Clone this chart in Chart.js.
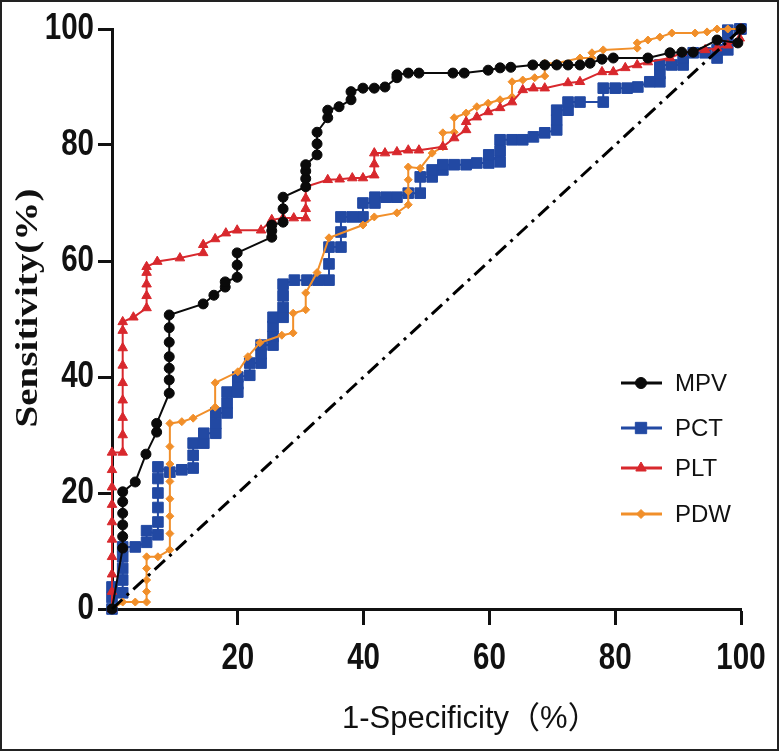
<!DOCTYPE html>
<html>
<head>
<meta charset="utf-8">
<script src="https://cdn.jsdelivr.net/npm/chart.js@4.4.1/dist/chart.umd.min.js"></script>
<style>
    html, body { margin: 0; padding: 0; background: #fff; }
    #wrap { width: 779px; height: 751px; }
</style>
</head>
<body>
<div id="wrap"><canvas id="roc-chart" width="779" height="751"></canvas></div>
<script>
// ROC曲線のデータ (1-特異度 %, 感度 %)
const seriesNames = ['MPV', 'PCT', 'PLT', 'PDW'];

const mpvX = [0, 1.7, 1.7, 1.7, 1.7, 1.7, 1.7, 3.7, 5.4, 7.1, 7.1, 9.1, 9.1, 9.1, 9.1, 9.1, 9.1, 9.1,
    14.5, 16.2, 18, 18, 19.9, 19.9, 19.9, 25.4, 25.4, 25.4, 27.2, 27.2, 27.2, 30.8, 30.8, 30.8, 30.8,
    32.6, 32.6, 32.6, 34.3, 34.3, 36.1, 38, 38, 39.9, 41.7, 43.4, 45.3, 45.3, 47.1, 48.8, 54.2, 56,
    59.8, 61.7, 63.4, 66.9, 68.8, 70.7, 72.5, 74.4, 76, 77.9, 79.7, 85.2, 88.7, 90.6, 92.4, 96.2, 99.5, 100];
const mpvY = [0, 10.5, 12.5, 14.5, 16.5, 18.5, 20.2, 21.9, 26.7, 30.5, 32, 37.2, 39.5, 41.5, 43.5, 46, 48.5, 50.7,
    52.6, 54.1, 55.5, 56.4, 57.2, 59.3, 61.4, 64.1, 65.2, 66.2, 66.7, 69, 71, 72.8, 74.2, 75.5, 76.6,
    78.3, 80.2, 82.2, 84.7, 86, 86.6, 87.8, 89.2, 89.8, 89.8, 90, 91.6, 92.1, 92.4, 92.4, 92.4, 92.4,
    92.9, 93.3, 93.4, 93.8, 93.8, 93.8, 93.8, 93.8, 94.1, 94.8, 95, 95, 95.9, 96, 96, 98.1, 97.6, 100];

const pctX = [0, 0, 0, 1.7, 1.7, 1.7, 1.7, 1.7, 3.7, 5.5, 5.5, 7.3, 7.3, 7.3, 7.3, 7.3, 7.3, 9.2, 11.1,
    12.9, 12.9, 12.9, 14.6, 14.6, 16.5, 16.5, 16.5, 18.3, 18.3, 18.3, 20, 20, 20, 21.9, 21.9,
    23.7, 23.7, 23.7, 25.6, 25.6, 25.6, 25.6, 27.2, 27.2, 27.2, 27.2, 29, 31, 32.8, 34.5, 34.5, 34.5,
    36.4, 36.4, 36.4, 38.2, 39.9, 39.9, 41.8, 41.8, 43.6, 45.3, 47.1, 49, 49, 50.9, 50.9, 52.6, 52.6,
    54.4, 56.3, 58, 59.9, 59.9, 61.7, 61.7, 61.7, 63.6, 65.3, 67, 68.8, 70.7, 70.7, 70.7, 72.5, 72.5,
    74.4, 78.1, 78.1, 80, 81.9, 83.6, 85.5, 87.1, 87.1, 87.1, 89, 90.8, 90.8, 92.4, 94.3, 96.2, 96.2,
    97.9, 97.9, 97.9, 99.8, 100];
const pctY = [0, 2, 3.8, 2.8, 5, 7, 9, 10.7, 10.7, 11.5, 13.5, 12.8, 15, 17.5, 20, 22.5, 24.5, 23.6, 24,
    24.3, 26.5, 28.6, 28.6, 30.3, 30.3, 32, 33.8, 33.8, 35.5, 37.4, 37.4, 38.8, 40, 40.3, 42.4,
    42.4, 44, 45.5, 45.5, 47, 48.7, 50.3, 50.3, 52, 54, 56, 56.7, 56.7, 56.7, 56.7, 59.5, 62.4,
    62.4, 65, 67.6, 67.6, 67.6, 70, 70, 71, 71, 71, 71.7, 71.7, 74.5, 74.5, 75.7, 75.7, 76.6,
    76.6, 76.6, 76.9, 76.9, 78.3, 77.1, 79, 80.9, 80.9, 80.9, 81.4, 82.1, 82.6, 84.3, 86, 86, 87.4,
    87.4, 87.4, 89.8, 89.8, 89.8, 90, 90.9, 90.9, 92.3, 93.8, 93.8, 93.8, 95, 95.9, 95.9, 95, 96.4,
    96.4, 98, 99.8, 100, 100];

const pltX = [0, 0, 0, 0, 0, 0, 0, 0, 0, 0, 1.7, 1.7, 1.7, 1.7, 1.7, 1.7, 1.7, 1.7, 1.7, 3.4,
    5.5, 5.5, 5.5, 5.5, 5.5, 7.2, 10.8, 14.5, 14.5, 16.4, 18.1, 19.9, 23.7, 25.4, 27.2, 28.9,
    30.8, 30.8, 30.8, 30.8, 34.3, 36.2, 38.2, 39.9, 41.7, 41.7, 41.7, 43.4, 45.3, 47.1, 48.8,
    52.6, 54.4, 56.3, 56.3, 58, 59.8, 61.7, 63.6, 65.3, 67, 68.8, 72.5, 74.4, 77.9, 79.7, 81.6,
    83.5, 85.2, 88.7, 90.6, 94.3, 96.2, 97.9, 99.8, 100];
const pltY = [0, 3, 6, 9, 12, 15, 18, 21, 24, 27, 27, 30, 33, 36, 39, 42, 45, 48, 49.5, 50.3,
    51.9, 54, 56, 58, 59, 59.9, 60.5, 61.4, 62.8, 63.8, 64.8, 65.3, 65.3, 67.1, 67.4, 67.4,
    67.4, 69, 70.8, 72.8, 74, 74.1, 74.3, 74.3, 74.8, 76.7, 78.6, 78.6, 78.8, 79.1, 79.1,
    79.7, 81.2, 82.6, 84, 84.8, 85.7, 86.4, 87.4, 89.5, 89.8, 89.8, 90.7, 90.9, 92.6, 92.6, 93.3,
    93.8, 94.3, 95, 95.9, 96.4, 96.7, 97.2, 98.4, 100];

const pdwX = [0, 1.7, 3.7, 5.5, 5.5, 5.5, 5.5, 5.5, 7.3, 9.2, 9.2, 9.2, 9.2, 9.2, 9.2, 9.2, 9.2,
    11.1, 12.9, 16.4, 16.4, 20, 21.6, 23.5, 27, 28.8, 28.8, 30.8, 30.8, 32.6, 34.5, 39.9, 41.7,
    45.3, 47.1, 47.1, 47.1, 47.1, 49, 50.9, 52.6, 52.6, 54.4, 54.4, 56.3, 58, 59.8, 61.7, 63.6, 63.6,
    65.3, 67.2, 68.8, 68.8, 70.7, 74.4, 76.3, 76.3, 78.1, 83.5, 83.5, 85.2, 87.1, 89, 92.7, 94.6,
    96.2, 97.9, 99.8];
const pdwY = [0, 1.2, 1.2, 1.2, 3, 5, 7, 9, 9, 10.2, 13, 16, 19, 22, 25, 28, 32,
    32.3, 32.9, 34.8, 39, 40.9, 43.5, 45.9, 47.2, 47.6, 51, 51.6, 54.5, 58, 64, 66.2, 67.6,
    68.3, 69.7, 72, 74, 76.2, 76, 78.6, 79.7, 82.1, 82.2, 84.7, 85.5, 86.6, 87.2, 87.8, 88.3, 90.9,
    91.2, 91.6, 91.9, 94.1, 94.1, 95, 95, 95.9, 96.4, 96.7, 97.6, 98.1, 98.6, 99.3, 99.3, 99.5,
    100, 100, 100];

// 参照線 (AUC = 0.5)
const refX = [0, 100];
const refY = [0, 100];

// 目盛り
const xTickValues = [0, 20, 40, 60, 80, 100];
const yTickValues = [0, 20, 40, 60, 80, 100];

const colors = {
    MPV: '#0a0a0a',
    PCT: '#2249a3',
    PLT: '#d8282d',
    PDW: '#f18f2a'
};

function toPoints(xs, ys) {
    return xs.map((x, i) => ({ x: x, y: ys[i] }));
}

function rocDataset(label, xs, ys, pointStyle, radius, order) {
    return {
        label: label,
        data: toPoints(xs, ys),
        showLine: true,
        borderColor: colors[label],
        backgroundColor: colors[label],
        pointBackgroundColor: colors[label],
        pointBorderColor: colors[label],
        borderWidth: 2,
        pointStyle: pointStyle,
        pointRadius: radius,
        pointBorderWidth: 1,
        clip: false,
        order: order
    };
}

// 細めの太字で文字を描く (Arial Narrow 風)
function drawNarrow(ctx, text, x, y, align) {
    ctx.save();
    ctx.translate(x, y);
    ctx.scale(0.82, 1);
    ctx.textAlign = align;
    ctx.textBaseline = 'alphabetic';
    ctx.fillText(text, 0, 0);
    ctx.restore();
}

// 目盛りラベルを描画
const tickLabels = {
    id: 'tickLabels',
    afterDraw(chart) {
        const ctx = chart.ctx;
        const xs = chart.scales.x;
        const ys = chart.scales.y;
        ctx.save();
        ctx.font = 'bold 36px "Liberation Sans", Arial, sans-serif';
        ctx.fillStyle = '#111';
        xs.ticks.forEach(t => {
            if (t.value === 0) return;
            drawNarrow(ctx, String(t.value), xs.getPixelForValue(t.value), 669, 'center');
        });
        ys.ticks.forEach(t => {
            drawNarrow(ctx, String(t.value), 94, ys.getPixelForValue(t.value) + 10, 'right');
        });
        ctx.restore();
    }
};

// 凡例を描画
const customLegend = {
    id: 'customLegend',
    afterDraw(chart) {
        const ctx = chart.ctx;
        const rows = [383, 428, 468, 514];
        seriesNames.forEach((name, i) => {
            const ds = chart.data.datasets.find(d => d.label === name);
            const y = rows[i];
            ctx.save();
            ctx.strokeStyle = ds.borderColor;
            ctx.lineWidth = 3;
            ctx.beginPath();
            ctx.moveTo(621, y);
            ctx.lineTo(662, y);
            ctx.stroke();
            ctx.fillStyle = ds.pointBackgroundColor;
            ctx.lineWidth = 1;
            Chart.helpers.drawPoint(ctx, {
                pointStyle: ds.pointStyle,
                radius: ds.pointRadius + 0.5,
                borderWidth: 1,
                rotation: 0
            }, 641, y);
            ctx.fillStyle = '#111';
            ctx.font = '24px "Liberation Sans", Arial, sans-serif';
            ctx.textAlign = 'left';
            ctx.textBaseline = 'middle';
            ctx.fillText(name, 675, y + 1);
            ctx.restore();
        });
    }
};

// 軸タイトルと外枠
const axisTitles = {
    id: 'axisTitles',
    afterDraw(chart) {
        const ctx = chart.ctx;
        ctx.save();
        // 縦軸タイトル (縦長の Times 風)
        ctx.font = 'bold 32px "Liberation Serif", "Times New Roman", serif';
        ctx.fillStyle = '#111';
        const text = 'Sensitivity(%)';
        const w = ctx.measureText(text).width;
        ctx.translate(29, 308);
        ctx.rotate(-Math.PI / 2);
        ctx.scale(239 / w, 1);
        ctx.textAlign = 'center';
        ctx.textBaseline = 'middle';
        ctx.fillText(text, 0, 0);
        ctx.restore();

        // 横軸タイトル
        ctx.save();
        ctx.font = '31px "Liberation Sans", Arial, "Noto Sans CJK SC", sans-serif';
        ctx.fillStyle = '#111';
        ctx.textAlign = 'left';
        ctx.textBaseline = 'alphabetic';
        ctx.fillText('1-Specificity（%）', 342, 728);
        ctx.restore();

        // 外枠
        ctx.save();
        ctx.strokeStyle = '#222';
        ctx.lineWidth = 2;
        ctx.strokeRect(1, 1, chart.width - 2, chart.height - 2);
        ctx.restore();
    }
};

const ctx = document.getElementById('roc-chart').getContext('2d');
new Chart(ctx, {
    type: 'scatter',
    data: {
        datasets: [
            {
                label: 'Reference',
                data: toPoints(refX, refY),
                showLine: true,
                borderColor: '#000',
                borderWidth: 3,
                borderDash: [14, 6, 3, 6],
                pointRadius: 0,
                clip: false,
                order: 0
            },
            rocDataset('MPV', mpvX, mpvY, 'circle', 5, 1),
            rocDataset('PLT', pltX, pltY, 'triangle', 5.5, 2),
            rocDataset('PDW', pdwX, pdwY, 'rectRot', 4, 3),
            rocDataset('PCT', pctX, pctY, 'rect', 7.5, 4)
        ]
    },
    options: {
        responsive: false,
        animation: false,
        devicePixelRatio: 1,
        layout: {
            padding: { top: 29, right: 38, bottom: 0, left: 0 }
        },
        plugins: {
            legend: { display: false },
            tooltip: { enabled: false }
        },
        scales: {
            x: {
                type: 'linear',
                min: 0,
                max: 100,
                afterBuildTicks: scale => {
                    scale.ticks = xTickValues.map(v => ({ value: v }));
                },
                afterFit: scale => { scale.height = 142; },
                ticks: { display: false },
                grid: {
                    drawOnChartArea: false,
                    tickLength: 16,
                    tickWidth: 3,
                    tickColor: c => (c.tick && c.tick.value === 0 ? 'rgba(0,0,0,0)' : '#111')
                },
                border: { color: '#111', width: 3 }
            },
            y: {
                type: 'linear',
                min: 0,
                max: 100,
                afterBuildTicks: scale => {
                    scale.ticks = yTickValues.map(v => ({ value: v }));
                },
                afterFit: scale => { scale.width = 112; },
                ticks: { display: false },
                grid: {
                    drawOnChartArea: false,
                    tickLength: 14,
                    tickWidth: 3,
                    tickColor: '#111'
                },
                border: { color: '#111', width: 3 }
            }
        }
    },
    plugins: [tickLabels, customLegend, axisTitles]
});
</script>
</body>
</html>
